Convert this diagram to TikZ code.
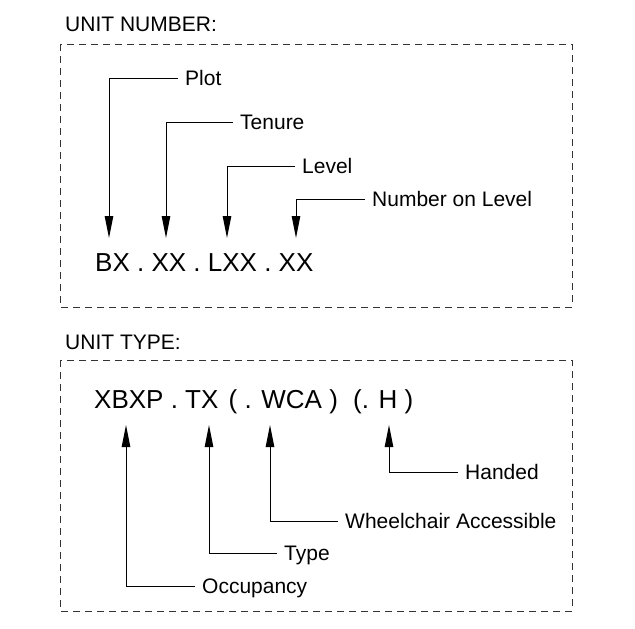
\documentclass[tikz,border=0pt]{standalone}
\usepackage{fontspec}
\setmainfont{Liberation Sans}
\usetikzlibrary{arrows.meta}
\tikzset{frame/.style={draw=black!80, line width=0.9pt, dash pattern=on 7pt off 5pt}}
\tikzset{hdr/.style={anchor=base west, inner sep=0pt, font=\fontsize{21}{25}\selectfont}}
\tikzset{code/.style={anchor=base west, inner sep=0pt, font=\fontsize{26}{30}\selectfont}}
\tikzset{lbl/.style={
   anchor=west, inner xsep=7pt, inner ysep=0pt,
   text height=15pt, text depth=0pt,
   font=\fontsize{21}{25}\selectfont
}}
\tikzset{lead/.style={line width=1pt, -{Triangle[length=22pt,width=8.5pt]}}}

\begin{document}
\begin{tikzpicture}[x=1pt,y=-1pt]

    \useasboundingbox (0,0) rectangle (635,629);

    % unit number
    \node[hdr] (hnum) at (65,31) {UNIT NUMBER:};
    \draw[frame] (60,44) rectangle (572,307);

    \node[code] (num) at (95,271) {BX . XX . LXX . XX};

    \node[lbl] (plot)   at (178,78)  {Plot};
    \node[lbl] (tenure) at (233,122) {Tenure};
    \node[lbl] (level)  at (295,166) {Level};
    \node[lbl] (nol)    at (365,199) {Number on Level};

    \coordinate (tplot)   at (109,238);
    \coordinate (ttenure) at (166,238);
    \coordinate (tlevel)  at (227,238);
    \coordinate (tnol)    at (296,238);

    \draw[lead] (plot.west)   -| (tplot);
    \draw[lead] (tenure.west) -| (ttenure);
    \draw[lead] (level.west)  -| (tlevel);
    \draw[lead] (nol.west)    -| (tnol);

    % unit type
    \node[hdr] (htype) at (65,349) {UNIT TYPE:};
    \draw[frame] (60,360) rectangle (572,611);

    \node[code] (typ) at (94,408) {XBXP . TX\hspace{3pt} ( . WCA )\hspace{8pt} (. H )};

    \node[lbl] (occ)    at (195,586) {Occupancy};
    \node[lbl] (type)   at (277,553) {Type};
    \node[lbl] (wca)    at (338,521) {Wheelchair Accessible};
    \node[lbl] (handed) at (458,472) {Handed};

    \coordinate (tocc)    at (126,425);
    \coordinate (ttype)   at (209,425);
    \coordinate (twca)    at (270,425);
    \coordinate (thanded) at (389,425);

    \draw[lead] (occ.west)    -| (tocc);
    \draw[lead] (type.west)   -| (ttype);
    \draw[lead] (wca.west)    -| (twca);
    \draw[lead] (handed.west) -| (thanded);

\end{tikzpicture}
\end{document}
